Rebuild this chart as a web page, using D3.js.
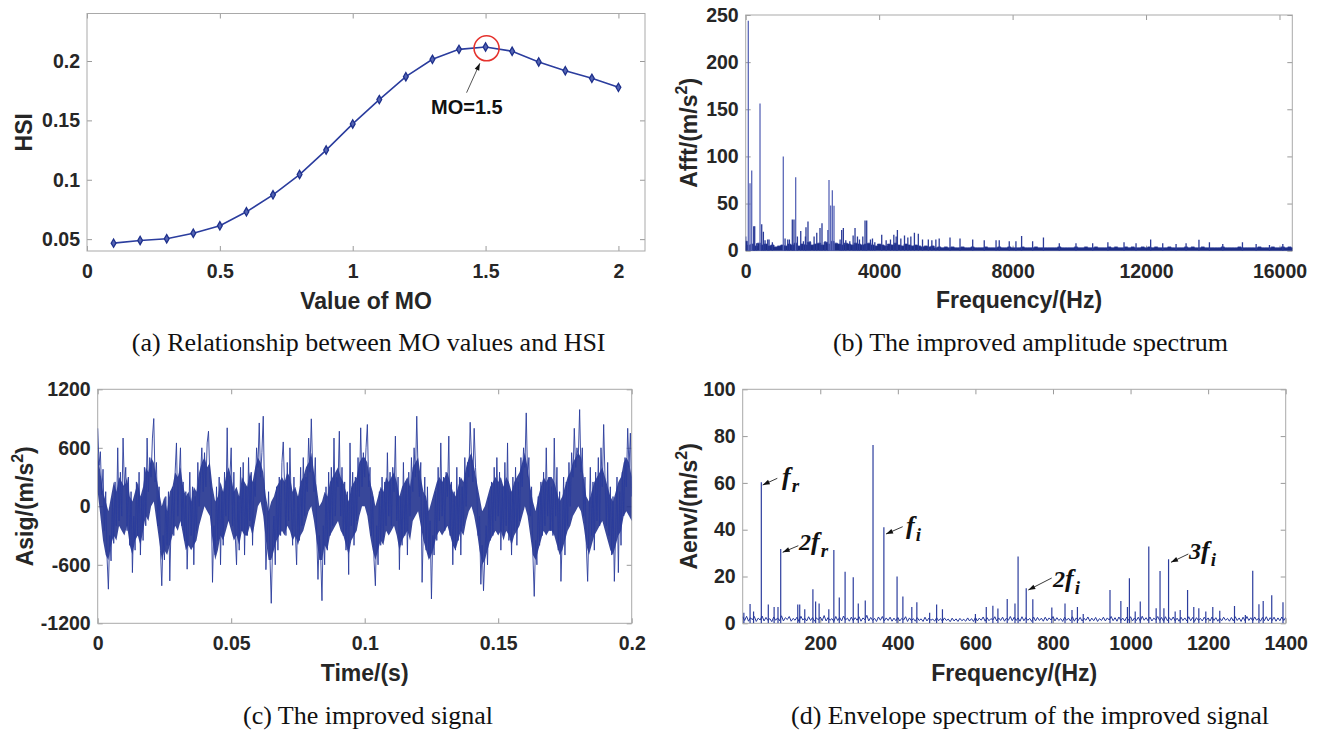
<!DOCTYPE html>
<html><head><meta charset="utf-8">
<script src="https://cdn.jsdelivr.net/npm/d3@7"></script>
<style>
body{margin:0;background:#fff;}
svg{display:block;}
.tick text{font-family:"Liberation Sans",Arial,sans-serif;font-weight:bold;font-size:19.5px;fill:#262626;}
.albl{font-family:"Liberation Sans",Arial,sans-serif;font-weight:bold;font-size:23px;fill:#262626;}
.cap{font-family:"Liberation Serif","Times New Roman",serif;font-size:26px;fill:#111;}
.ann{font-family:"Liberation Serif","Times New Roman",serif;font-style:italic;font-weight:bold;fill:#111;}
</style></head><body>
<svg id="c" width="1322" height="731"></svg>
<script>
// ---------- (a) HSI vs MO ----------
const moValues  = [0.1,0.2,0.3,0.4,0.5,0.6,0.7,0.8,0.9,1.0,1.1,1.2,1.3,1.4,1.5,1.6,1.7,1.8,1.9,2.0];
const hsiValues = [0.0466,0.0489,0.0503,0.055,0.0612,0.073,0.0873,0.1044,0.125,0.147,0.1675,0.1868,0.2014,0.2098,0.2118,0.2082,0.1992,0.1918,0.1854,0.1778];
const xTicksA = [0,0.5,1,1.5,2];
const yTicksA = [0.05,0.1,0.15,0.2];
const bestMO = 1.5, bestHSI = 0.2118;

// ---------- (b) amplitude spectrum ----------
const peaksB = [[0,15],[78,244],[129,71.5],[180,85],[240,26],[270,26],[330,8],[429,156],[480,28],[530,20],[580,11],[660,12],[700,12],[800,9],
 [1127,100],[1180,13],[1260,12],[1310,12],[1397,33],[1447,33],[1498,78],[1550,15],[1650,21],[1730,10],[1790,15],[1807,25],[1867,31],[1930,10],
 [2050,15],[2130,19],[2227,24],[2287,29],[2380,10],[2467,22],[2497,75],[2547,48],[2597,64],[2647,47.6],[2830,12],[2877,22],[2927,24],[3000,11],
 [3120,10],[3220,16],[3277,24],[3350,15],[3410,12],[3510,15],[3577,32],[3627,32],[3740,12],[3800,13],[3870,9],[4077,17],[4210,11],[4340,12],
 [4440,17],[4510,15],[4547,22],[4650,13],[4760,16],[4860,14],[4950,15],[5057,19],[5174,18],[5300,12],[5474,12],[5580,11],[5700,12],[5800,13],
 [6124,14],[6424,13],[6804,12],[7150,11],[7504,11],[7600,11],[7900,10],[8100,10],[8270,15.5],[8600,10],[8925,14],[9400,8],[9900,8],[10400,8],
 [10856,9],[11340,9],[11700,8],[12138,12],[12500,8],[12900,7],[13200,8],[13586,11.5],[13900,9],[14300,7],[14890,9],[15300,7],[15700,6],[16100,7]];
const floorStepB = 100;
const floorB = [10,6,7,5,8,6,7,5,6,4,5,
 6,5,7,6,8,5,7,6,9,6, 7,8,6,9,7,10,8,7,6,8, 7,6,8,7,6,7,8,6,5,7, 6,5,7,6,8,6,5,7,6,5,
 6,5,4,5,4,5,3,4,3,4, 3,4,3,3,4,3,3,4,3,3, 3,4,3,3,3,4,3,3,4,3, 3,3,4,3,3,3,4,3,3,3,
 3,3,3,4,3,3,3,3,4,3, 3,4,3,3,4,3,3,3,4,3, 4,3,3,4,3,4,3,3,4,3, 4,3,4,3,3,3,4,3,3,3,
 3,4,3,4,3,3,4,3,3,3, 3,3,4,3,3,3,3,4,3,3, 3,3,3,4,3,3,3,4,3,3, 4,3,4,3];
const xTicksB = [0,4000,8000,12000,16000];
const yTicksB = [0,50,100,150,200,250];

// ---------- (c) time signal ----------
const dtC = 0.0005;
const signalC = [
 800,420,560,120,380,-250,150,-520,-850,-300,-560,80,-380,250,-200,600,-150,350,-100,700,
 200,400,-250,300,-400,150,-680,-100,-450,250,-300,350,-500,100,-350,400,-200,700,150,500,
 300,700,900,250,450,-200,200,-450,-815,-300,-550,100,-400,150,-765,-150,200,-300,350,650,
 -100,300,600,-200,250,-350,150,-645,-150,350,-300,200,-600,100,-250,450,0,300,600,150,
 550,200,650,770,300,100,-780,-200,-500,200,-350,300,-600,150,-400,350,-100,805,-150,300,
 600,-200,350,-300,-600,100,-450,400,-250,450,-500,200,-300,500,-150,350,-400,250,100,600,
 400,855,300,550,924,100,-650,-300,150,-500,-995,-400,-100,-600,200,-450,300,-300,450,660,
 200,-300,450,-150,600,0,-400,300,-250,-600,100,-350,400,-200,500,-100,300,150,700,350,
 897,400,150,500,-250,-750,-300,-500,-968,-200,-600,200,-450,350,-300,400,-200,700,-100,300,
 200,770,-100,400,-300,250,-450,150,-700,650,-200,350,-400,300,-150,500,100,805,200,550,
 300,600,839,200,400,-300,100,-550,-815,-200,-600,150,-400,300,-350,250,-200,550,-100,350,
 -200,400,150,720,-150,300,-650,100,-400,450,-300,250,-500,350,-100,500,150,600,300,924,
 350,100,450,-780,-200,300,-450,200,-500,-150,-950,-300,-500,150,-350,400,-150,650,-100,300,
 -250,350,100,720,-300,250,-600,150,-450,400,-350,300,-500,200,-200,500,0,450,300,862,
 500,250,800,400,150,-300,-100,-800,-400,-866,-500,-200,-600,100,-350,250,-300,400,-150,500,
 -100,350,-450,200,-300,450,-200,650,-350,150,-500,300,-250,400,-400,250,-150,500,200,600,
 400,958,300,500,-100,200,-500,-924,-350,-600,100,-400,250,-300,350,-200,600,-100,300,-250,
 200,-300,700,-100,400,-450,150,-770,-300,300,-500,250,-200,450,0,550,300,800,400,600,
 500,992,350,600,-100,300,-400,-770,-200,400,-300,250,-450,350,-150,500,-200,600,200,839,
 300,-200,450,-300,200,-500,100,-770,-250,300,-680,150,-400,350,-100,500,200,800,400,750,
 100];
// dense core of the trace (the solid dark band), upper / lower edge every 0.001 s
const coreStepC = 0.001;
const coreHiC = [
 550,350,150,50,-50,100,250,150,300,250, 200,300,100,50,150,250,100,200,400,350,
 500,450,300,150,0,100,-50,150,200,350, 300,400,200,100,150,50,200,150,350,450,
 500,400,450,200,50,100,250,150,300,400, 300,150,200,100,300,250,200,350,250,400,
 500,450,350,100,-50,50,100,200,250,300, 250,350,300,150,200,100,250,300,400,450,
 550,350,200,0,50,150,100,250,300,350, 400,300,250,150,50,200,250,300,450,500,
 500,450,250,150,0,100,200,150,300,250, 300,350,250,100,200,250,300,200,400,450,
 500,300,150,100,-50,50,150,250,300,250, 300,350,250,150,100,200,300,250,400,500,
 550,400,250,100,-50,0,100,200,250,300, 250,300,200,300,250,150,250,300,350,450,
 550,400,200,50,-50,100,200,300,250,300, 300,250,150,50,100,200,300,350,450,500,
 550,500,300,100,50,150,250,300,350,400, 300,200,100,50,150,250,300,450,500,450, 300];
const coreLoC = [
 150,-100,-350,-500,-550,-400,-300,-350,-200,-250, -300,-200,-400,-500,-350,-300,-400,-250,-100,-150,
 0,50,-150,-350,-550,-450,-500,-400,-300,-200, -250,-150,-300,-450,-400,-450,-400,-350,-200,-100,
 0,-50,-100,-350,-550,-450,-300,-350,-250,-150, -250,-350,-300,-400,-250,-300,-300,-200,-300,-150,
 0,50,-100,-350,-550,-550,-450,-350,-300,-250, -300,-200,-250,-350,-300,-400,-300,-250,-150,-50,
 0,-150,-350,-550,-550,-400,-450,-300,-250,-200, -150,-250,-300,-400,-500,-350,-300,-250,-100,0,
 0,-100,-300,-450,-550,-450,-350,-400,-250,-300, -250,-200,-300,-450,-350,-300,-250,-350,-150,-100,
 -50,-200,-350,-450,-550,-500,-400,-300,-250,-300, -250,-200,-300,-400,-450,-350,-250,-300,-150,-50,
 0,-100,-250,-450,-600,-550,-450,-350,-300,-250, -300,-250,-350,-250,-300,-400,-300,-250,-200,-100,
 0,-100,-300,-500,-550,-450,-350,-250,-300,-250, -250,-300,-400,-500,-450,-350,-250,-200,-100,-50,
 0,-50,-200,-400,-500,-400,-300,-250,-200,-150, -250,-350,-450,-500,-400,-300,-250,-100,-50,-100, -150];
const xTicksC = [0,0.05,0.1,0.15,0.2];
const yTicksC = [-1200,-600,0,600,1200];

// ---------- (d) envelope spectrum ----------
const peaksD = [[3,4.5],[19,8.3],[28,5],[48,60.3],[66,8],[81,7],[91,7],[98,31.8],[142,8],[147,8],[160,6],[181,14.5],[188,9.3],[197,8.5],
 [222,6],[235,31.3],[249,11],[264,22],[285,19.7],[298,8.5],[316,9.7],[336,76.2],[364,41],[398,20],[413,11.4],[436,7],[449,9],[482,4.5],
 [500,8],[515,6],[600,4],[628,7],[645,7.5],[658,6.3],[682,10.4],[702,8.5],[710,28.5],[731,15],[748,10.3],[797,6.7],[831,8.5],[849,5.7],
 [863,7],[878,4],[947,14.2],[975,9.5],[992,7],[997,19.2],[1012,5],[1025,9.3],[1047,32.8],[1066,6.4],[1076,22.4],[1086,6.4],[1098,27.4],
 [1115,5],[1128,5.7],[1147,14.2],[1163,7],[1176,6.4],[1194,5],[1212,7],[1230,5.4],[1268,7.4],[1296,3.6],[1315,22.5],[1331,8.1],[1342,9.5],
 [1364,12],[1393,9]];
const floorStepD = 5;
const floorD = [
 2.8,1.2,3.0,0.9,2.4,1.5,2.9,0.8,2.2,1.4,3.1,1.0,2.5,1.2,2.0,0.7,2.7,1.3,2.3,1.1,
 3.2,1.0,2.4,1.6,2.9,0.9,2.1,1.3,2.6,0.8,3.0,1.4,2.2,1.0,2.8,1.2,2.5,0.9,2.3,1.5,
 2.7,1.1,3.3,1.0,2.4,1.3,2.0,0.8,2.9,1.2,2.5,1.0,3.1,1.4,2.2,0.9,2.6,1.1,2.4,1.3,
 2.8,0.9,2.3,1.5,3.4,1.0,2.5,1.2,2.1,0.8,2.7,1.3,2.9,1.0,2.3,1.2,2.6,0.9,2.2,1.1,
 2.5,1.0,2.1,1.4,2.8,0.8,2.3,1.1,2.0,0.9,2.4,1.2,1.9,0.8,2.6,1.0,2.2,1.3,1.8,0.9,
 2.4,1.1,2.0,0.8,2.3,1.2,1.8,0.7,2.2,1.0,1.9,0.8,2.1,1.1,1.7,0.9,2.3,1.0,2.0,0.8,
 2.5,1.0,2.2,1.3,2.7,0.9,2.4,1.1,2.0,1.4,2.8,1.0,2.3,1.2,2.6,0.9,2.2,1.3,2.9,1.1,
 2.6,1.2,2.3,0.9,2.8,1.1,2.4,1.3,2.1,0.8,2.7,1.0,2.5,1.2,2.2,0.9,2.6,1.1,2.3,1.4,
 2.9,1.0,2.4,1.2,2.0,0.8,2.6,1.3,2.2,1.0,2.8,0.9,2.3,1.2,2.5,1.0,2.1,1.3,2.7,0.9,
 2.2,1.1,2.5,0.8,2.0,1.2,2.6,1.0,2.3,1.4,2.9,1.1,2.4,0.9,2.7,1.2,2.2,1.0,2.6,1.3,
 2.8,1.0,2.3,1.2,2.6,0.9,3.0,1.3,2.4,1.1,2.7,1.0,2.2,1.4,2.9,1.2,2.5,0.9,2.8,1.1,
 2.4,1.3,2.7,1.0,2.2,0.9,2.6,1.2,2.3,1.0,2.8,1.1,2.5,0.8,2.4,1.2,2.1,1.0,2.6,1.3,
 2.3,1.0,2.7,1.2,2.4,0.9,2.2,1.1,2.6,1.3,2.1,0.9,2.5,1.0,2.8,1.2,2.3,0.8,2.6,1.1,
 2.9,1.2,2.4,1.0,2.7,1.3,2.2,0.9,2.5,1.1,2.8,1.0,2.4,1.2,2.6,0.9,2.3,1.1,2.7,1.2,
 2.5];
const xTicksD = [200,400,600,800,1000,1200,1400];
const yTicksD = [0,20,40,60,80,100];

// ================= drawing =================
const svg = d3.select("#c");
const defs = svg.append("defs");
defs.append("marker").attr("id","ah").attr("viewBox","0 0 10 10").attr("refX",10).attr("refY",5)
  .attr("markerWidth",8).attr("markerHeight",7).attr("orient","auto").attr("markerUnits","userSpaceOnUse")
  .append("path").attr("d","M0,1.5 L10,5 L0,8.5 Z").attr("fill","#111");

let clipId = 0;
function panel(o){
  const x = d3.scaleLinear().domain(o.xDomain).range([o.left,o.right]);
  const y = d3.scaleLinear().domain(o.yDomain).range([o.bottom,o.top]);
  const g = svg.append("g");
  const fmt = d => String(d);
  const ax = (axis, tr, labels) => {
    const a = g.append("g").attr("transform",tr).call(axis);
    a.select(".domain").remove();
    a.selectAll(".tick line").attr("stroke","#9a9a9a").attr("stroke-width",1);
    if(!labels) a.selectAll("text").remove();
    return a;
  };
  ax(d3.axisBottom(x).tickValues(o.xTicks).tickSize(-5).tickPadding(13).tickFormat(fmt), `translate(0,${o.bottom})`, true);
  ax(d3.axisTop(x).tickValues(o.xTicks).tickSize(-5), `translate(0,${o.top})`, false);
  ax(d3.axisLeft(y).tickValues(o.yTicks).tickSize(-5).tickPadding(7).tickFormat(fmt), `translate(${o.left},0)`, true);
  ax(d3.axisRight(y).tickValues(o.yTicks).tickSize(-5), `translate(${o.right},0)`, false);
  g.append("rect").attr("x",o.left).attr("y",o.top).attr("width",o.right-o.left).attr("height",o.bottom-o.top)
    .attr("fill","none").attr("stroke","#a9a9a9").attr("stroke-width",1);
  const id = "clip"+(clipId++);
  defs.append("clipPath").attr("id",id).append("rect").attr("x",o.left).attr("y",o.top-2)
    .attr("width",o.right-o.left).attr("height",o.bottom-o.top+2);
  const plot = g.append("g").attr("clip-path",`url(#${id})`);
  g.append("text").attr("class","albl").attr("x",(o.left+o.right)/2).attr("y",o.bottom+57.5)
    .attr("text-anchor","middle").text(o.xLabel);
  const yl = g.append("text").attr("class","albl").attr("text-anchor","middle")
    .attr("transform",`translate(${o.yLabelX},${(o.top+o.bottom)/2}) rotate(-90)`);
  yl.append("tspan").text(o.yLabel);
  if(o.sup){
    yl.append("tspan").attr("dy",-10).attr("font-size","16px").text("2");
    yl.append("tspan").attr("dy",10).text(")");
  }
  svg.append("text").attr("class","cap").attr("x",o.capX).attr("y",o.capY).attr("text-anchor","middle").text(o.caption);
  return {x,y,g,plot};
}

// (a)
const A = panel({left:87,right:645,top:13.5,bottom:251,xDomain:[0,2.1],yDomain:[0.04,0.24],
  xTicks:xTicksA,yTicks:yTicksA,xLabel:"Value of MO",yLabel:"HSI",yLabelX:31.7,
  caption:"(a) Relationship between MO values and HSI",capX:368.7,capY:351});
A.plot.append("path").datum(moValues.map((m,i)=>[m,hsiValues[i]]))
  .attr("d",d3.line().x(d=>A.x(d[0])).y(d=>A.y(d[1]))).attr("fill","none").attr("stroke","#2b3d9e").attr("stroke-width",1.6);
A.plot.selectAll(".mk").data(moValues).join("path")
  .attr("transform",(m,i)=>`translate(${A.x(m)},${A.y(hsiValues[i])})`)
  .attr("d",d3.symbol(d3.symbolDiamond,20)()).attr("fill","#5565b5").attr("stroke","#1f318c").attr("stroke-width",1.3);
A.g.append("circle").attr("cx",A.x(bestMO)+1).attr("cy",A.y(bestHSI)+1.3).attr("r",12.5)
  .attr("fill","none").attr("stroke","#e5322d").attr("stroke-width",1.6);
A.g.append("line").attr("x1",A.x(bestMO)-19).attr("y1",A.y(bestHSI)+45.7).attr("x2",A.x(bestMO)-5.7).attr("y2",A.y(bestHSI)+16.3)
  .attr("stroke","#555").attr("stroke-width",1).attr("marker-end","url(#ah)");
A.g.append("text").attr("x",431).attr("y",114).attr("font-family","Liberation Sans, Arial, sans-serif")
  .attr("font-weight","bold").attr("font-size","20px").attr("fill","#111").text("MO=1.5");

// (b)
const B = panel({left:745.7,right:1292.3,top:15,bottom:250.7,xDomain:[0,16384],yDomain:[0,250],
  xTicks:xTicksB,yTicks:yTicksB,xLabel:"Frequency/(Hz)",yLabel:"Afft/(m/s",sup:true,yLabelX:697,
  caption:"(b) The improved amplitude spectrum",capX:1030.5,capY:351});
B.plot.append("path").datum(floorB)
  .attr("d",d3.area().x((d,i)=>B.x(i*floorStepB)).y0(B.y(0)).y1(d=>B.y(d)).curve(d3.curveStep))
  .attr("fill","#1d2d86").attr("stroke","#2a3a96").attr("stroke-width",0.8);
B.plot.selectAll(".pk").data(peaksB).join("line")
  .attr("x1",d=>B.x(d[0])).attr("x2",d=>B.x(d[0])).attr("y1",B.y(0)).attr("y2",d=>B.y(d[1]))
  .attr("stroke",d=>d[1]>40?"#5a67b8":"#2b3b98").attr("stroke-width",1.3);

// (c)
const C = panel({left:97.7,right:631.7,top:389.3,bottom:623.3,xDomain:[0,0.2],yDomain:[-1200,1200],
  xTicks:xTicksC,yTicks:yTicksC,xLabel:"Time/(s)",yLabel:"Asig/(m/s",sup:true,yLabelX:33.2,
  caption:"(c) The improved signal",capX:368,capY:724});
C.plot.append("path").datum(coreHiC.map((h,i)=>[i*coreStepC,h,coreLoC[i]]))
  .attr("d",d3.area().x(d=>C.x(d[0])).y0(d=>C.y(d[2])).y1(d=>C.y(d[1])))
  .attr("fill","#1c2e8c").attr("fill-opacity",0.88);
C.plot.append("path").datum(signalC)
  .attr("d",d3.line().x((d,i)=>C.x(i*dtC)).y(d=>C.y(d))).attr("fill","none").attr("stroke","#2a3c9c")
  .attr("stroke-width",0.9).attr("stroke-linejoin","bevel");

// (d)
const D = panel({left:742.7,right:1285.7,top:389.3,bottom:623.3,xDomain:[0,1400],yDomain:[0,100],
  xTicks:xTicksD,yTicks:yTicksD,xLabel:"Frequency/(Hz)",yLabel:"Aenv/(m/s",sup:true,yLabelX:697,
  caption:"(d) Envelope spectrum of the improved signal",capX:1030,capY:724});
D.plot.selectAll(".pk").data(peaksD).join("line")
  .attr("x1",d=>D.x(d[0])).attr("x2",d=>D.x(d[0])).attr("y1",D.y(0)).attr("y2",d=>D.y(d[1]))
  .attr("stroke","#2c3d9e").attr("stroke-width",1.2);
D.plot.append("path").datum(floorD)
  .attr("d",d3.line().x((d,i)=>D.x(i*floorStepD)).y(d=>D.y(d))).attr("fill","none").attr("stroke","#24379a").attr("stroke-width",1);

// annotations (d)
const anns = [
  {t:[762.7,485,777.3,478.3], pre:"", sub:"r", x:782, y:485},
  {t:[782.7,552.3,798.3,545.7], pre:"2", sub:"r", x:799, y:550},
  {t:[886,534,902.7,526.7], pre:"", sub:"i", x:906, y:534},
  {t:[1028.3,590,1051.7,578], pre:"2", sub:"i", x:1053, y:587},
  {t:[1171,562.3,1188.3,554], pre:"3", sub:"i", x:1189, y:559}
];
anns.forEach(a=>{
  D.g.append("line").attr("x1",a.t[2]).attr("y1",a.t[3]).attr("x2",a.t[0]).attr("y2",a.t[1])
    .attr("stroke","#222").attr("stroke-width",0.9).attr("marker-end","url(#ah)");
  const tx = D.g.append("text").attr("class","ann").attr("x",a.x).attr("y",a.y).attr("font-size","26px");
  if(a.pre) tx.append("tspan").attr("font-size","24px").text(a.pre);
  tx.append("tspan").text("f");
  tx.append("tspan").attr("dy",7).attr("dx",1).attr("font-size","19px").text(a.sub);
});
</script>
</body></html>
